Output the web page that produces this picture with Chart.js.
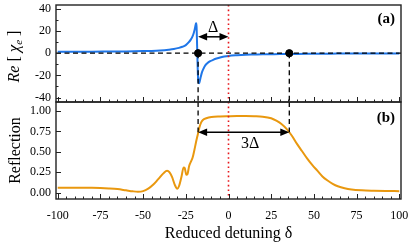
<!DOCTYPE html>
<html>
<head>
<meta charset="utf-8">
<script src="https://cdn.jsdelivr.net/npm/chart.js@4.4.1/dist/chart.umd.min.js"></script>
<style>
  html, body { margin: 0; padding: 0; background: #fff; }
</style>
</head>
<body>
<canvas id="chart" width="411" height="244"></canvas>
<script>
// panel (a): real part of susceptibility vs reduced detuning
var reDetuning = [-100, -90, -80, -70, -60, -50, -45, -40, -35, -32, -29, -27, -25, -23.5, -22, -21,
  -20.3, -19.8, -19.4, -19.1, -18.9, -18.7, -18.5, -18.3, -18.1, -17.9, -17.6, -17.2, -16.8, -16.2,
  -15.5, -14.6, -13.5, -12, -10.7, -9, -7, -4.9, -2.5, 0, 5, 10, 15, 20, 30, 40, 50, 60, 70, 80, 90, 100];
var reChi = [1.3, 1.35, 1.4, 1.5, 1.6, 1.9, 2.1, 2.5, 3.2, 3.8, 4.8, 5.8, 7.3, 9.5, 12.5, 15.5,
  18.5, 21.5, 24.5, 26.5, 27, 24, 14, 2, -10, -20, -26, -27, -25, -21,
  -17, -13.8, -10.8, -8.5, -7.2, -6, -4.8, -3.8, -3, -2.4, -1.8, -1.4, -1.2, -1, -0.8, -0.6, -0.5, -0.4, -0.3, -0.25, -0.2, -0.15];

// panel (b): reflection vs reduced detuning
var rfDetuning = [-100, -90, -80, -75, -70, -65, -60, -56, -53, -50, -47, -44, -41, -38, -36, -34.5,
  -33, -31.5, -30, -29, -27.5, -26.3, -25.6, -24.7, -24, -23, -22, -21, -20, -19, -18, -17, -16,
  -15, -13, -10, -5, 0, 5, 10, 15, 20, 25, 28, 31, 34, 37, 40, 43, 46, 49, 52, 55, 58, 61, 64,
  68, 72, 78, 85, 92, 100];
var reflection = [0.06, 0.06, 0.06, 0.058, 0.053, 0.045, 0.03, 0.018, 0.013, 0.02, 0.05, 0.1, 0.17, 0.24, 0.27, 0.25,
  0.19, 0.1, 0.05, 0.08, 0.2, 0.31, 0.3, 0.22, 0.23, 0.33, 0.38, 0.43, 0.52, 0.62, 0.71, 0.8, 0.86,
  0.89, 0.91, 0.925, 0.932, 0.935, 0.937, 0.937, 0.935, 0.93, 0.91, 0.88, 0.84, 0.78, 0.7, 0.6, 0.51, 0.42, 0.34, 0.27, 0.2, 0.15, 0.11, 0.08,
  0.055, 0.04, 0.03, 0.025, 0.022, 0.02];

// marker positions: -Delta and 2*Delta
var markerX = [-17.8, 35.6];
var deltaArrowY = 14.8;
var bandArrowY = 0.74;

var xTicks = [-100, -75, -50, -25, 0, 25, 50, 75, 100];
var topTicks = [-40, -20, 0, 20, 40];
var bottomTicks = [0, 0.25, 0.5, 0.75, 1];

var X_MIN = -101, X_MAX = 101;
var TOP_MIN = -44, TOP_MAX = 43.5;
var BOT_MIN = -0.076, BOT_MAX = 1.109;

var serif = "'Liberation Serif', 'DejaVu Serif', serif";

function pts(xs, ys) {
  return xs.map(function(x, i) { return { x: x, y: ys[i] }; });
}

function seg(x1, y1, x2, y2) {
  return [{ x: x1, y: y1 }, { x: x2, y: y2 }];
}

function arrowHead(ctx, x, y, dir) {
  ctx.beginPath();
  ctx.moveTo(x, y);
  ctx.lineTo(x - dir * 9, y - 3.8);
  ctx.lineTo(x - dir * 9, y + 3.8);
  ctx.closePath();
  ctx.fill();
}

function doubleArrow(ctx, x1, x2, y) {
  ctx.beginPath();
  ctx.moveTo(x1 + 4, y);
  ctx.lineTo(x2 - 4, y);
  ctx.stroke();
  arrowHead(ctx, x1, y, -1);
  arrowHead(ctx, x2, y, 1);
}

function noPad(s) {
  s.paddingTop = 0;
  s.paddingBottom = 0;
  s.paddingLeft = 0;
  s.paddingRight = 0;
}

var decorPlugin = {
  id: "decor",
  afterDatasetsDraw: function(chart) {
    var ctx = chart.ctx;
    var sx = chart.scales.x, sa = chart.scales.yA, sb = chart.scales.yB;
    ctx.save();
    ctx.fillStyle = "#000";
    ctx.strokeStyle = "#000";
    ctx.lineWidth = 1.5;

    // arrows
    doubleArrow(ctx, sx.getPixelForValue(markerX[0]), sx.getPixelForValue(0), sa.getPixelForValue(deltaArrowY));
    doubleArrow(ctx, sx.getPixelForValue(markerX[0]), sx.getPixelForValue(markerX[1]), sb.getPixelForValue(bandArrowY));

    ctx.font = "16px " + serif;
    ctx.textAlign = "center";
    ctx.textBaseline = "middle";
    ctx.fillText("\u0394", sx.getPixelForValue(-9), sa.getPixelForValue(22.5));
    ctx.fillText("3\u0394", sx.getPixelForValue(12.7), sb.getPixelForValue(0.6));

    // panel labels
    ctx.font = "bold 15px " + serif;
    ctx.textAlign = "right";
    ctx.fillText("(a)", chart.chartArea.right - 6, sa.top + 14);
    ctx.fillText("(b)", chart.chartArea.right - 6, sb.top + 16);

    // frames
    var left = chart.chartArea.left, right = chart.chartArea.right;
    ctx.strokeStyle = "#222";
    ctx.lineWidth = 1.4;
    ctx.strokeRect(left, sa.top, right - left, sa.bottom - sa.top);
    ctx.strokeRect(left, sb.top, right - left, sb.bottom - sb.top);

    // inward ticks
    ctx.lineWidth = 1;
    ctx.beginPath();
    for (var v = -100; v <= 100; v += 5) {
      var px = Math.round(sx.getPixelForValue(v)) + 0.5;
      var len = v % 25 === 0 ? 5 : 2.5;
      ctx.moveTo(px, sa.bottom);
      ctx.lineTo(px, sa.bottom - len);
      ctx.moveTo(px, sb.bottom);
      ctx.lineTo(px, sb.bottom - len);
    }
    for (var t = -40; t <= 40; t += 10) {
      var py = Math.round(sa.getPixelForValue(t)) + 0.5;
      ctx.moveTo(left, py);
      ctx.lineTo(left + (t % 20 === 0 ? 5 : 2.5), py);
    }
    bottomTicks.forEach(function(b) {
      var py = Math.round(sb.getPixelForValue(b)) + 0.5;
      ctx.moveTo(left, py);
      ctx.lineTo(left + 5, py);
    });
    ctx.stroke();

    // y title of panel (a): Re[chi_e]
    ctx.translate(15, (sa.top + sa.bottom) / 2 + 3);
    ctx.rotate(-Math.PI / 2);
    ctx.textAlign = "left";
    ctx.textBaseline = "middle";
    var parts = [
      { t: "Re", f: "italic 16px " + serif, dy: 0 },
      { t: " [ ", f: "16px " + serif, dy: 0 },
      { t: "\u03c7", f: "italic 17px " + serif, dy: 0 },
      { t: "e", f: "italic 11px " + serif, dy: 4 },
      { t: " ]", f: "16px " + serif, dy: 0 }
    ];
    var w = 0;
    parts.forEach(function(p) { ctx.font = p.f; w += ctx.measureText(p.t).width; });
    var cx = -w / 2;
    parts.forEach(function(p) {
      ctx.font = p.f;
      ctx.fillText(p.t, cx, p.dy);
      cx += ctx.measureText(p.t).width;
    });
    ctx.restore();
  }
};

var tickFont = { family: serif, size: 12 };

var chart = new Chart(document.getElementById("chart"), {
  type: "line",
  data: {
    datasets: [
      { data: seg(0, TOP_MAX, 0, TOP_MIN), yAxisID: "yA", borderColor: "#e8141a", borderWidth: 1.6, borderDash: [1.6, 3], order: 0 },
      { data: seg(0, BOT_MAX, 0, BOT_MIN), yAxisID: "yB", borderColor: "#e8141a", borderWidth: 1.6, borderDash: [1.6, 3], order: 0 },
      { type: "scatter", data: pts(markerX, [0, 0]), yAxisID: "yA", pointRadius: 3.6, backgroundColor: "#000", borderColor: "#000", order: 1 },
      { data: seg(X_MIN, 0, X_MAX, 0), yAxisID: "yA", borderColor: "#000", borderWidth: 1.3, borderDash: [5, 3.5], order: 2 },
      { data: seg(markerX[0], 0, markerX[0], TOP_MIN), yAxisID: "yA", borderColor: "#000", borderWidth: 1.3, borderDash: [5, 3.5], order: 2 },
      { data: seg(markerX[1], 0, markerX[1], TOP_MIN), yAxisID: "yA", borderColor: "#000", borderWidth: 1.3, borderDash: [5, 3.5], order: 2 },
      { data: seg(markerX[0], BOT_MAX, markerX[0], bandArrowY), yAxisID: "yB", borderColor: "#000", borderWidth: 1.3, borderDash: [5, 3.5], order: 2 },
      { data: seg(markerX[1], BOT_MAX, markerX[1], bandArrowY), yAxisID: "yB", borderColor: "#000", borderWidth: 1.3, borderDash: [5, 3.5], order: 2 },
      { data: pts(reDetuning, reChi), yAxisID: "yA", borderColor: "#1f76e8", borderWidth: 2, cubicInterpolationMode: "monotone", order: 3 },
      { data: pts(rfDetuning, reflection), yAxisID: "yB", borderColor: "#e9980f", borderWidth: 2, cubicInterpolationMode: "monotone", order: 3 }
    ]
  },
  options: {
    responsive: false,
    animation: false,
    layout: { padding: { left: 0, right: 10, top: 3, bottom: 0 } },
    elements: { point: { radius: 0 } },
    plugins: { legend: { display: false }, tooltip: { enabled: false } },
    scales: {
      x: {
        type: "linear", position: "bottom", min: X_MIN, max: X_MAX,
        afterBuildTicks: function(s) { s.ticks = xTicks.map(function(v) { return { value: v }; }); },
        afterFit: function(s) { s.height = 45; noPad(s); },
        grid: { display: false, drawTicks: false }, border: { display: false },
        ticks: { font: tickFont, color: "#000", padding: 10, maxRotation: 0, autoSkip: false },
        title: { display: true, text: "Reduced detuning \u03b4", color: "#000", font: { family: serif, size: 16 }, padding: { top: 0, bottom: 1 } }
      },
      yB: {
        type: "linear", position: "left", stack: "panels", stackWeight: 1, min: BOT_MIN, max: BOT_MAX,
        afterBuildTicks: function(s) { s.ticks = bottomTicks.map(function(v) { return { value: v }; }); },
        afterFit: function(s) { s.width = 56; noPad(s); },
        grid: { display: false, drawTicks: false }, border: { display: false },
        ticks: { font: tickFont, color: "#000", padding: 5, autoSkip: false, callback: function(v) { return v.toFixed(2); } },
        title: { display: true, text: "Reflection", color: "#000", font: { family: serif, size: 16 }, padding: { top: 6, bottom: 0 } }
      },
      yA: {
        type: "linear", position: "left", stack: "panels", stackWeight: 1, min: TOP_MIN, max: TOP_MAX,
        afterBuildTicks: function(s) { s.ticks = topTicks.map(function(v) { return { value: v }; }); },
        afterFit: function(s) { s.width = 56; noPad(s); },
        grid: { display: false, drawTicks: false }, border: { display: false },
        ticks: { font: tickFont, color: "#000", padding: 5, autoSkip: false },
        title: { display: false }
      }
    }
  },
  plugins: [decorPlugin]
});
</script>
</body>
</html>
